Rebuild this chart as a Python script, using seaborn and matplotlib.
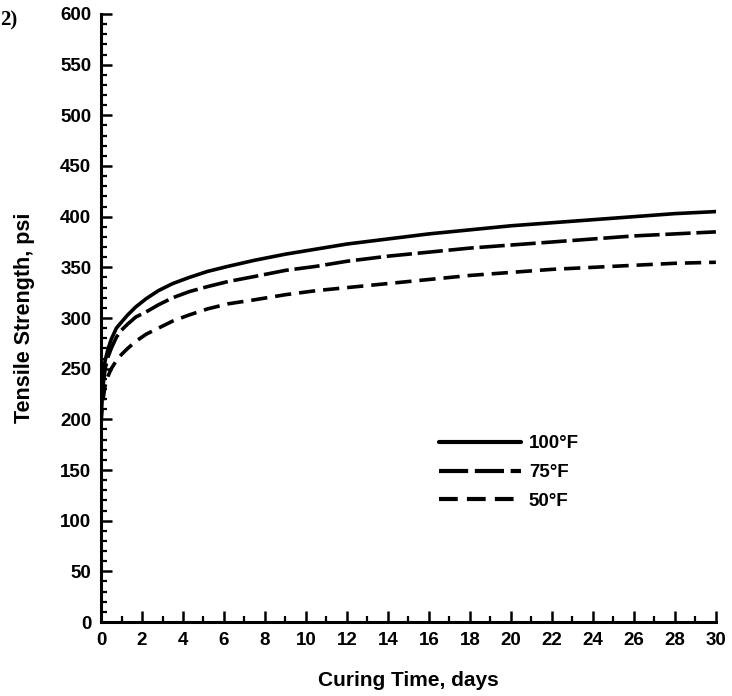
import numpy as np
import pandas as pd
import matplotlib
matplotlib.use("Agg")
import matplotlib.pyplot as plt
import seaborn as sns
from matplotlib.ticker import MultipleLocator

# Curing time (days) and tensile strength (psi) for each curing temperature
days = [0.0, 0.05, 0.1, 0.2, 0.35, 0.5, 0.75, 1.0, 1.3, 1.7, 2.2, 2.8, 3.5, 4.3, 5.2, 6.2,
        7.5, 9.0, 10.5, 12, 14, 16, 18, 20, 22, 24, 26, 28, 30]
t100 = [205, 228, 242, 258, 270, 279, 290, 296, 303, 311, 319, 327, 334, 340, 346, 351,
        357, 363, 368, 373, 378, 383, 387, 391, 394, 397, 400, 403, 405]
t75 = [200, 220, 233, 250, 262, 270, 281, 288, 294, 301, 306, 313, 320, 326, 331, 336,
       341, 347, 351, 356, 361, 365, 369, 372, 375, 378, 381, 383, 385]
t50 = [195, 210, 220, 233, 243, 250, 258, 264, 270, 277, 284, 290, 297, 303, 309, 314,
       318, 323, 327, 330, 334, 338, 342, 345, 348, 350, 352, 354, 355]
labels = ["100°F", "75°F", "50°F"]

df = pd.concat([
    pd.DataFrame({"days": days, "psi": vals, "temp": lab})
    for vals, lab in zip([t100, t75, t50], labels)
])

sns.set_theme(style="ticks")
plt.rcParams["font.family"] = ["Liberation Sans", "DejaVu Sans"]
plt.rcParams["font.weight"] = "bold"
plt.rcParams["text.color"] = "black"
plt.rcParams["axes.labelcolor"] = "black"

fig = plt.figure(figsize=(7.32, 6.96), dpi=100)
ax = fig.add_axes([0.138, 0.1063, 0.840, 0.8736])

sns.lineplot(
    data=df, x="days", y="psi", hue="temp", style="temp",
    hue_order=labels, style_order=labels,
    palette=["black"] * 3,
    dashes={"100°F": "", "75°F": (7, 1.6), "50°F": (4.5, 2.2)},
    linewidth=2.6, ax=ax, sort=False,
)

ax.set_xlim(0, 30)
ax.set_ylim(0, 600)
ax.xaxis.set_major_locator(MultipleLocator(2))
ax.xaxis.set_minor_locator(MultipleLocator(1))
ax.yaxis.set_major_locator(MultipleLocator(50))
ax.yaxis.set_minor_locator(MultipleLocator(10))
ax.tick_params(which="major", direction="in", length=8, width=1.8,
               labelsize=13.5, pad=7, color="black", labelcolor="black")
ax.tick_params(which="minor", direction="in", length=4.5, width=1.6, color="black")
for lab in ax.get_xticklabels() + ax.get_yticklabels():
    lab.set_fontweight("bold")

for side in ("top", "right"):
    ax.spines[side].set_visible(False)
for side in ("left", "bottom"):
    ax.spines[side].set_linewidth(2.2)
    ax.spines[side].set_color("black")

ax.set_xlabel("Curing Time, days", fontsize=15, fontweight="bold", labelpad=16)
ax.set_ylabel("Tensile Strength, psi", fontsize=15.5, fontweight="bold", labelpad=18)

leg = ax.legend(
    loc="upper left", bbox_to_anchor=(0.522, 0.335), frameon=False,
    handlelength=4.4, handletextpad=0.4, labelspacing=0.62,
    prop={"size": 13.5, "weight": "bold"},
)
for h in leg.get_lines():
    h.set_linewidth(3.0)

fig.text(0.0, 0.985, "2)", fontsize=15, family="Liberation Serif", va="top", ha="left")

fig.savefig("out.png", dpi=100, facecolor="white")
